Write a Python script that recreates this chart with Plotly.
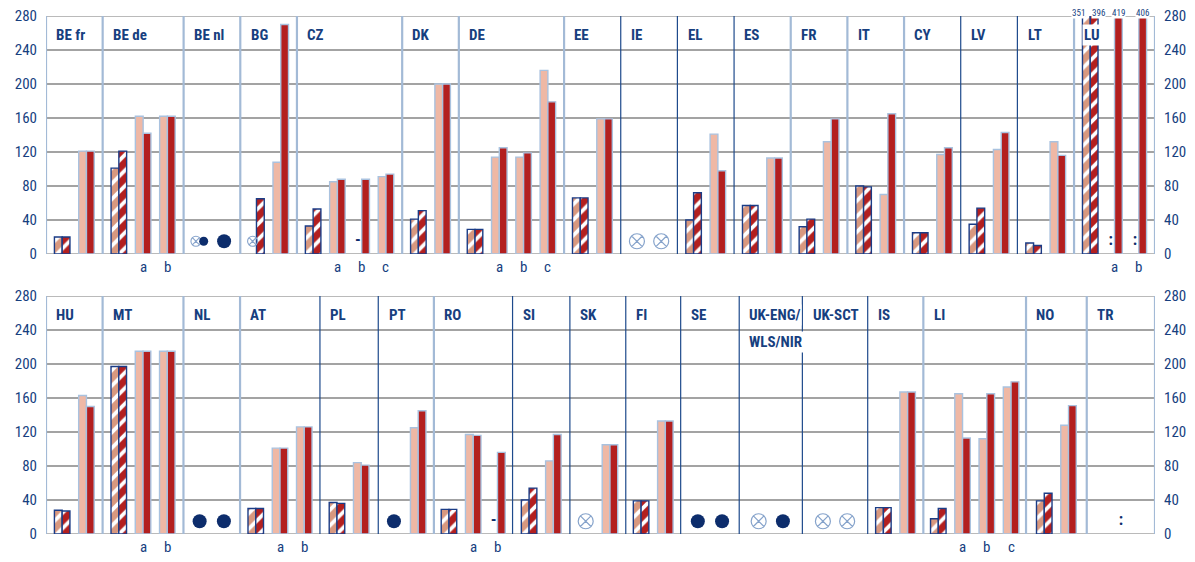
import plotly.graph_objects as go
from plotly.subplots import make_subplots

# ---------------- data ----------------
# codes: "x" = not applicable (circled x), "o" = dot, ":" = not available, "-" = nil
countries_top = ["BE fr", "BE de", "BE nl", "BG", "CZ", "DK", "DE", "EE", "IE",
                 "EL", "ES", "FR", "IT", "CY", "LV", "LT", "LU"]
hatch_light_top = [20, 101, "x", "x", 33, 41, 29, 66, "x", 40, 57, 32, 80, 25, 35, 13, 351]
hatch_dark_top = [20, 121, "o", 65, 53, 51, 29, 66, "x", 72, 57, 41, 79, 25, 54, 10, 396]
solid_light_top = [[121], [162, 162], ["o"], [108], [85, "-", 91], [200], [114, 114, 216],
                   [159], ["x"], [141], [113], [132], [70], [117], [123], [132], [":", ":"]]
solid_dark_top = [[121], [142, 162], ["o"], [270], [88, 88, 94], [200], [125, 119, 179],
                  [159], ["x"], [98], [113], [159], [165], [125], [143], [116], [419, 406]]
sublabels_top = [[""], ["a", "b"], [""], [""], ["a", "b", "c"], [""], ["a", "b", "c"],
                 [""], [""], [""], [""], [""], [""], [""], [""], [""], ["a", "b"]]

countries_bot = ["HU", "MT", "NL", "AT", "PL", "PT", "RO", "SI", "SK", "FI", "SE",
                 "UK-ENG/\nWLS/NIR", "UK-SCT", "IS", "LI", "NO", "TR"]
hatch_light_bot = [28, 197, "o", 30, 37, "o", 29, 40, "x", 39, "o", "x", "x", 31, 18, 39, ":"]
hatch_dark_bot = [27, 197, "o", 30, 36, "o", 29, 54, "x", 39, "o", "x", "x", 31, 30, 48, ":"]
solid_light_bot = [[163], [215, 215], ["o"], [101, 126], [84], [125], [117, "-"], [86], [105],
                   [133], ["o"], ["o"], ["x"], [167], [165, 112, 173], [128], []]
solid_dark_bot = [[150], [215, 215], ["o"], [101, 126], [81], [145], [116, 96], [117], [105],
                  [133], ["o"], ["o"], ["x"], [167], [113, 165, 179], [151], []]
sublabels_bot = [[""], ["a", "b"], [""], ["a", "b"], [""], [""], ["a", "b"], [""], [""],
                 [""], [""], [""], [""], [""], ["a", "b", "c"], [""], []]

y_ticks = [0, 40, 80, 120, 160, 200, 240, 280]

# ---------------- layout / style ----------------
extra_top = [0] * 17
extra_bot = [0, 0, 0, -0.04, 0.07, -0.04, -0.09, 0.03, -0.03, -0.07, 0.08, 0.27, 0.36,
             -0.04, -0.1, 0.17, 1.48]
sep_dark_top = [i in (8, 9, 10, 14, 15) for i in range(17)]
sep_dark_bot = [i in (4, 5, 7, 8, 9, 10, 11, 12, 13) for i in range(17)]

NAVY = "#173F7F"
LIGHT = "#EFB8A5"
LIGHT_H = "#D8987F"
DARK = "#B31F1F"
OUT_SOLID = "#A9C2DF"
OUT_HATCH = "#1B3C86"
SEP_LIGHT = "#A3BAD6"
SEP_DARK = "#1E4A8C"
GRID = "#A3A3A3"
XSYM = "#86A3CB"
FONT = "Roboto Condensed, Roboto, Liberation Sans, sans-serif"

PAD = 1 / 3
BW = 0.32
SYM_Y = 15

fig = make_subplots(rows=2, cols=1, vertical_spacing=0.081,
                    specs=[[{"secondary_y": True}], [{"secondary_y": True}]])


def is_num(v):
    return isinstance(v, (int, float))


def build_panel(row, countries, hl, hd, sl, sd, subl, extra, sep_dark, xref, yref):
    bars = {"hl": ([], []), "hd": ([], []), "sl": ([], []), "sd": ([], [])}
    syms = {"xb": ([], []), "xs": ([], []), "ob": ([], []), "os": ([], [])}
    texts = ([], [])
    starts = []
    start = 0.0

    def pair(center, a, b, kl, kd):
        la, lb = center - BW / 2, center + BW / 2
        if is_num(a):
            bars[kl][0].append(la); bars[kl][1].append(a)
        if is_num(b):
            bars[kd][0].append(lb); bars[kd][1].append(b)
        if isinstance(a, str) and a == b:
            if a in ("x", "o"):
                syms[a + "b"][0].append(center); syms[a + "b"][1].append(SYM_Y)
            else:
                texts[0].append(center); texts[1].append(a)
        else:
            for v, pos in ((a, la), (b, lb)):
                if isinstance(v, str):
                    if v in ("x", "o"):
                        syms[v + "s"][0].append(pos); syms[v + "s"][1].append(SYM_Y)
                    else:
                        texts[0].append(pos); texts[1].append(v)

    for i, c in enumerate(countries):
        n = 1 + len(sl[i])
        w = n + PAD + extra[i]
        first = start + PAD / 2 + extra[i] / 2
        centers = [first + j + 0.5 for j in range(n)]
        starts.append(start)
        pair(centers[0], hl[i], hd[i], "hl", "hd")
        for j in range(len(sl[i])):
            pair(centers[j + 1], sl[i][j], sd[i][j], "sl", "sd")
            lab = subl[i][j] if j < len(subl[i]) else ""
            if lab:
                fig.add_annotation(x=centers[j + 1], y=0, xref=xref, yref=yref, text=lab,
                                   showarrow=False, yanchor="top", yshift=-2,
                                   font=dict(family=FONT, size=15, color=NAVY))
        for k, line in enumerate(c.split("\n")):
            fig.add_annotation(x=start + 0.34, y=258 - 32 * k, xref=xref, yref=yref,
                               text="<b>%s</b>" % line, showarrow=False, xanchor="left",
                               yanchor="middle", bgcolor="white", borderpad=1,
                               font=dict(family=FONT, size=15, color=NAVY))
        start += w
    total = start

    styles = {
        "hl": dict(color=LIGHT_H, line=dict(color=OUT_HATCH, width=1.4),
                   pattern=dict(shape="/", fgcolor="white", bgcolor=LIGHT_H, size=11,
                                solidity=0.35, fillmode="replace")),
        "hd": dict(color=DARK, line=dict(color=OUT_HATCH, width=1.4),
                   pattern=dict(shape="/", fgcolor="white", bgcolor=DARK, size=11,
                                solidity=0.35, fillmode="replace")),
        "sl": dict(color=LIGHT, line=dict(color=OUT_SOLID, width=1.4)),
        "sd": dict(color=DARK, line=dict(color=OUT_SOLID, width=1.4)),
    }
    for k in ("hl", "hd", "sl", "sd"):
        fig.add_trace(go.Bar(x=bars[k][0], y=bars[k][1], width=BW, marker=styles[k],
                             showlegend=False, hoverinfo="skip"), row=row, col=1)

    symstyle = {
        "xb": dict(symbol="circle-x-open", size=15, color=XSYM, line=dict(width=1.2, color=XSYM)),
        "xs": dict(symbol="circle-x-open", size=10, color=XSYM, line=dict(width=1.1, color=XSYM)),
        "ob": dict(symbol="circle", size=14, color="#0D2D6C"),
        "os": dict(symbol="circle", size=9, color="#0D2D6C"),
    }
    for k, st in symstyle.items():
        if syms[k][0]:
            fig.add_trace(go.Scatter(x=syms[k][0], y=syms[k][1], mode="markers", marker=st,
                                     showlegend=False, hoverinfo="skip", cliponaxis=False),
                          row=row, col=1)
    if texts[0]:
        fig.add_trace(go.Scatter(x=texts[0], y=[SYM_Y] * len(texts[0]), mode="text",
                                 text=["<b>%s</b>" % t for t in texts[1]],
                                 textfont=dict(family=FONT, size=16, color="#0D2D6C"),
                                 showlegend=False, hoverinfo="skip"), row=row, col=1)

    fig.add_trace(go.Scatter(x=[0], y=[0], mode="markers", marker=dict(opacity=0),
                             showlegend=False, hoverinfo="skip"), row=row, col=1,
                  secondary_y=True)

    xs = [0.0] + starts[1:] + [total]
    darks = [False] + list(sep_dark[1:]) + [False]
    for xv, dk in zip(xs, darks):
        fig.add_shape(type="line", x0=xv, x1=xv, y0=0, y1=280, xref=xref, yref=yref,
                      line=dict(color=SEP_DARK if dk else SEP_LIGHT, width=1.2 if dk else 2.2),
                      layer="above")
    for yv in (0, 280):
        fig.add_shape(type="line", x0=0, x1=total, y0=yv, y1=yv, xref=xref, yref=yref,
                      line=dict(color=GRID, width=1.6), layer="below")
    return total, bars


tot_top, bars_top = build_panel(1, countries_top, hatch_light_top, hatch_dark_top,
                                solid_light_top, solid_dark_top, sublabels_top,
                                extra_top, sep_dark_top, "x", "y")
tot_bot, _ = build_panel(2, countries_bot, hatch_light_bot, hatch_dark_bot,
                         solid_light_bot, solid_dark_bot, sublabels_bot,
                         extra_bot, sep_dark_bot, "x2", "y3")

# values of bars that run past the top of the axis
for k in ("hl", "hd", "sl", "sd"):
    for xv, yv in zip(*bars_top[k]):
        if yv > 280:
            fig.add_annotation(x=xv, y=280, xref="x", yref="y", text=str(yv),
                               showarrow=False, yanchor="bottom", yshift=-3,
                               xshift=-8 if k == "hl" else (4 if k == "hd" else 0),
                               bgcolor="white", borderpad=0,
                               font=dict(family=FONT, size=9, color=NAVY))

for ax in ("xaxis", "xaxis2"):
    fig.layout[ax].update(showticklabels=False, showgrid=False, zeroline=False,
                          showline=False, ticks="", automargin=False, domain=[0, 1])
fig.layout.xaxis.range = [0, tot_top]
fig.layout.xaxis2.range = [0, tot_bot]

for ax in ("yaxis", "yaxis2", "yaxis3", "yaxis4"):
    fig.layout[ax].update(range=[0, 280], tickvals=y_ticks, zeroline=False, showline=False,
                          ticks="", ticklabelstandoff=8, automargin=False,
                          ticklabeloverflow="allow",
                          tickfont=dict(family=FONT, size=15, color=NAVY))
for ax in ("yaxis", "yaxis3"):
    fig.layout[ax].update(showgrid=True, gridcolor=GRID, gridwidth=1.6)
for ax in ("yaxis2", "yaxis4"):
    fig.layout[ax].update(showgrid=False)

# the page body adds an 8px offset; size the figure so the plot lands where the reference has it
fig.update_layout(width=1187, height=554, barmode="overlay", plot_bgcolor="white",
                  paper_bgcolor="white", margin=dict(l=38, r=40, t=8, b=28),
                  font=dict(family=FONT, color=NAVY))

fig.write_html("out.html")
